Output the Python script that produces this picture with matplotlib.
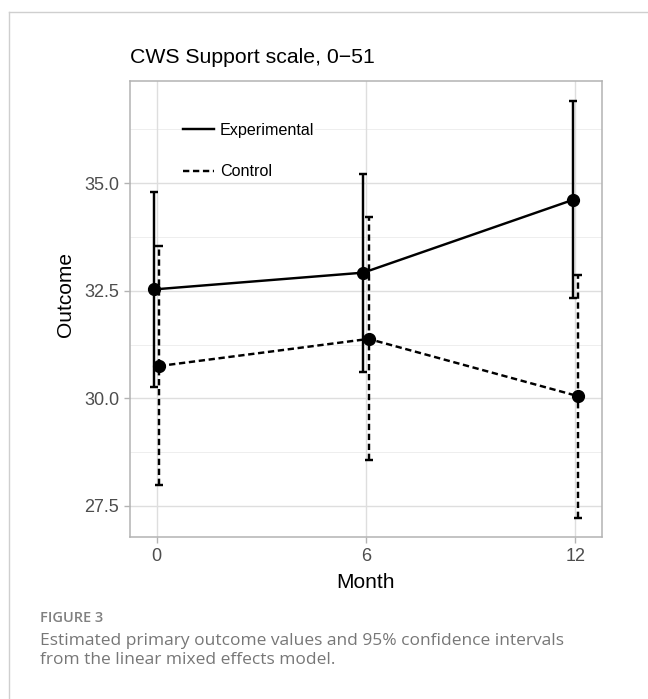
import matplotlib
matplotlib.use("Agg")
import matplotlib.pyplot as plt
from matplotlib.lines import Line2D
import numpy as np

# ---- data ----
months = [0, 6, 12]
exp_est = [32.53, 32.92, 34.61]
exp_lo = [30.26, 30.62, 32.32]
exp_hi = [34.80, 35.22, 36.90]
ctl_est = [30.75, 31.38, 30.05]
ctl_lo = [27.98, 28.57, 27.23]
ctl_hi = [33.53, 34.22, 32.87]
series_labels = ["Experimental", "Control"]
title = "CWS Support scale, 0\u221251"
y_ticks = [27.5, 30.0, 32.5, 35.0]
y_minor = [28.75, 31.25, 33.75, 36.25]
x_ticks = [0, 6, 12]

W, H = 648, 699
fig = plt.figure(figsize=(W / 100, H / 100), dpi=100)
fig.patch.set_facecolor("white")

# card border (left and top edges visible)
fig.add_artist(Line2D([9.3 / W, 9.3 / W], [0, 1 - 11.7 / H], transform=fig.transFigure,
                      color="#cfcfcf", lw=1.0))
fig.add_artist(Line2D([9.3 / W, 1.0], [1 - 11.7 / H, 1 - 11.7 / H], transform=fig.transFigure,
                      color="#cfcfcf", lw=1.0))

L, R, T, B = 129.7, 602.3, 80.7, 537.3
ax = fig.add_axes([L / W, 1 - B / H, (R - L) / W, (B - T) / H])
ax.set_xlim(-0.77, 12.77)
ax.set_ylim(26.77, 37.38)

# grid
for v in y_minor:
    ax.axhline(v, color="#ebebeb", lw=0.6, zorder=0)
for v in y_ticks:
    ax.axhline(v, color="#dedede", lw=1.0, zorder=0)
for v in x_ticks:
    ax.axvline(v, color="#dedede", lw=1.0, zorder=0)

for s in ax.spines.values():
    s.set_color("#b3b3b3")
    s.set_linewidth(1.1)

dodge = 0.075
xe = np.array(months, dtype=float) - dodge
xc = np.array(months, dtype=float) + dodge
lw = 1.75
dash = (2.6, 1.5)

# error bars
e1 = ax.errorbar(xe, exp_est,
                 yerr=[np.array(exp_est) - np.array(exp_lo), np.array(exp_hi) - np.array(exp_est)],
                 fmt="none", ecolor="black", elinewidth=lw, capsize=2.6, capthick=lw, zorder=3)
e2 = ax.errorbar(xc, ctl_est,
                 yerr=[np.array(ctl_est) - np.array(ctl_lo), np.array(ctl_hi) - np.array(ctl_est)],
                 fmt="none", ecolor="black", elinewidth=lw, capsize=2.6, capthick=lw, zorder=3)
for lc in e2[2]:
    lc.set_linestyle((0, dash))

# lines + points
ax.plot(xe, exp_est, color="black", lw=lw, zorder=4, solid_capstyle="butt")
ax.plot(xc, ctl_est, color="black", lw=lw, zorder=4, linestyle=(0, dash))
ax.plot(xe, exp_est, "o", color="black", ms=8.5, zorder=5)
ax.plot(xc, ctl_est, "o", color="black", ms=8.5, zorder=5)

# ticks
ax.set_xticks(x_ticks)
ax.set_xticklabels([str(m) for m in x_ticks])
ax.set_yticks(y_ticks)
ax.set_yticklabels([f"{v:.1f}" for v in y_ticks])
ax.tick_params(axis="both", length=4, width=1.0, color="#b3b3b3", labelcolor="#4d4d4d",
               labelsize=13)
ax.tick_params(axis="x", pad=4)
ax.tick_params(axis="y", pad=3.5)
for lab in ax.get_xticklabels() + ax.get_yticklabels():
    lab.set_fontfamily("Liberation Sans")

# legend
handles = [Line2D([], [], color="black", lw=lw),
           Line2D([], [], color="black", lw=lw, linestyle=(0, dash))]
leg = ax.legend(handles, series_labels, loc="upper left", bbox_to_anchor=(0.1128, 0.9076),
                frameon=True, facecolor="white", edgecolor="none", framealpha=1,
                borderpad=0.0, borderaxespad=0.0, handlelength=1.95, handletextpad=0.35,
                labelspacing=1.65, prop={"family": "Liberation Sans", "size": 11.6})
leg.get_frame().set_linewidth(0)

# titles
fig.text(L / W, 1 - 62.7 / H, title, ha="left", va="baseline",
         fontsize=15.3, family="Liberation Sans", color="black")
fig.text(365.8 / W, 1 - 587.7 / H, "Month", ha="center", va="baseline",
         fontsize=15, family="Liberation Sans", color="black")
fig.text(66 / W, 1 - 294 / H, "Outcome", ha="center", va="center", rotation=90,
         fontsize=15, family="Liberation Sans", color="black")

# caption
fig.text(40 / W, 1 - 618 / H, "FIGURE 3", ha="left", va="center", fontsize=10.5,
         family="Open Sans", weight="semibold", color="#808080")
fig.text(40 / W, 1 - 641 / H, "Estimated primary outcome values and 95% confidence intervals",
         ha="left", va="center", fontsize=12.5, family="Open Sans", color="#777777")
fig.text(40 / W, 1 - 660 / H, "from the linear mixed effects model.",
         ha="left", va="center", fontsize=12.5, family="Open Sans", color="#777777")

fig.savefig("out.png", dpi=100)
